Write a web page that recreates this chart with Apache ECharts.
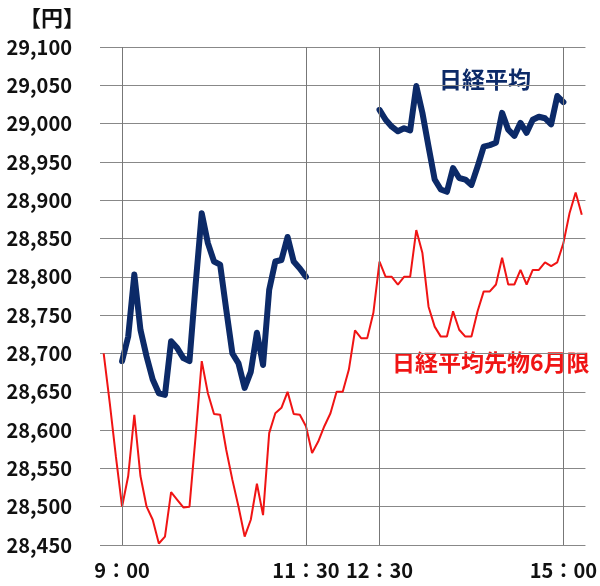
<!DOCTYPE html>
<html>
<head>
<meta charset="utf-8">
<script src="https://cdn.jsdelivr.net/npm/echarts@6.0.0/dist/echarts.min.js"></script>
<style>
  html, body { margin: 0; padding: 0; background: #fff; }
  #chart { width: 600px; height: 586px; }
</style>
</head>
<body>
<div id="chart"></div>
<script>
// 5-minute points, 8:45 .. 15:15 (futures), Nikkei cash sessions 9:00-11:30 / 12:30-15:00
const futuresStart = '8:45';
const nikkeiAmStart = '9:00';
const nikkeiPmStart = '12:30';
const stepMin = 5;

const futures = [
  28700, 28635, 28565,
  28500, 28540, 28620, 28540, 28500, 28483, 28452, 28461, 28519, 28509, 28499, 28500,
  28592, 28690, 28648, 28621, 28620, 28574, 28535, 28500, 28461, 28483, 28530, 28489,
  28596, 28622, 28629, 28650, 28621, 28620, 28605, 28570, 28585, 28605, 28622, 28650,
  28650, 28679, 28730, 28720, 28720, 28753,
  28820, 28800, 28800, 28790, 28800, 28800,
  28861, 28831, 28761, 28735, 28722, 28722, 28755, 28731, 28722, 28722, 28755, 28781,
  28781, 28790, 28825, 28790, 28790, 28809, 28790, 28809, 28809, 28819, 28814, 28819,
  28844, 28883, 28910, 28881
];

const nikkeiAm = [
  28690, 28722, 28803, 28731, 28696, 28666, 28648, 28646, 28716, 28707, 28694, 28690,
  28790, 28883, 28844, 28820, 28816, 28757, 28700, 28687, 28655, 28676, 28727, 28685,
  28783, 28820, 28822, 28852, 28820, 28811, 28800
];

const nikkeiPm = [
  29018, 29005, 28996, 28990, 28994, 28991,
  29049, 29014, 28970, 28927, 28914, 28911, 28942, 28929, 28927, 28920, 28944, 28970,
  28972, 28975, 29014, 28992, 28984, 29001, 28988, 29005, 29009, 29007, 28999, 29036,
  29028
];

const timeTicks = ['9:00', '11:30', '12:30', '15:00'];
const yMin = 28450, yMax = 29100, yStep = 50;

const NAVY = '#0c2a68';
const RED = '#f01414';
const FONT = '"Noto Sans CJK JP", "Noto Sans", sans-serif';

function toMin(t) {
  const [h, m] = t.split(':').map(Number);
  return h * 60 + m;
}
function fmtTime(v) {
  const h = Math.floor(v / 60), m = v % 60;
  return h + '：' + String(m).padStart(2, '0');
}
function pairs(start, values) {
  const s = toMin(start);
  return values.map((v, i) => [s + i * stepMin, v]);
}

const chart = echarts.init(document.getElementById('chart'));

chart.setOption({
  animation: false,
  backgroundColor: '#fff',
  title: {
    text: '【円】',
    left: 14,
    top: 2,
    textStyle: { fontSize: 22, fontWeight: 'bold', color: '#111', fontFamily: FONT }
  },
  grid: { left: 100, right: 13, top: 47, bottom: 41 },
  xAxis: {
    type: 'value',
    min: 522,
    max: 918,
    axisLine: { show: false },
    axisTick: { show: false },
    splitLine: { show: false },
    axisLabel: {
      customValues: timeTicks.map(toMin),
      formatter: (v) => fmtTime(v),
      margin: 15,
      fontSize: 20,
      fontWeight: 'bold',
      color: '#111',
      fontFamily: FONT
    }
  },
  yAxis: {
    type: 'value',
    min: yMin,
    max: yMax,
    interval: yStep,
    axisLine: { show: false },
    axisTick: { show: false },
    splitLine: { show: true, lineStyle: { color: '#888', width: 1 } },
    axisLabel: {
      formatter: (v) => v.toLocaleString('en-US'),
      margin: 28,
      fontSize: 20,
      fontWeight: 'bold',
      color: '#111',
      fontFamily: FONT
    }
  },
  series: [
    {
      type: 'line',
      data: [],
      silent: true,
      z: 1,
      markLine: {
        silent: true,
        symbol: 'none',
        label: { show: false },
        lineStyle: { color: '#777', type: 'solid', width: 1 },
        data: timeTicks.map((t) => ({ xAxis: toMin(t) }))
      }
    },
    {
      name: '日経平均先物6月限',
      type: 'line',
      data: pairs(futuresStart, futures),
      showSymbol: false,
      z: 3,
      lineStyle: { color: RED, width: 2 }
    },
    {
      name: '日経平均',
      type: 'line',
      data: pairs(nikkeiAmStart, nikkeiAm),
      showSymbol: false,
      z: 4,
      lineStyle: { color: NAVY, width: 6, join: 'round', cap: 'round' }
    },
    {
      name: '日経平均',
      type: 'line',
      data: pairs(nikkeiPmStart, nikkeiPm),
      showSymbol: false,
      z: 4,
      lineStyle: { color: NAVY, width: 6, join: 'round', cap: 'round' }
    }
  ],
  graphic: [
    {
      type: 'text',
      left: 427,
      top: 64,
      style: {
        text: '日経平均',
        fill: NAVY,
        font: 'bold 23px ' + FONT,
        backgroundColor: '#fff',
        padding: [4, 22, 4, 12]
      }
    },
    {
      type: 'text',
      left: 372,
      top: 348,
      style: {
        text: '日経平均先物6月限',
        fill: RED,
        font: 'bold 23px ' + FONT,
        backgroundColor: '#fff',
        padding: [3, 10, 3, 20]
      }
    }
  ]
});

window.addEventListener('resize', () => chart.resize());
</script>
</body>
</html>
